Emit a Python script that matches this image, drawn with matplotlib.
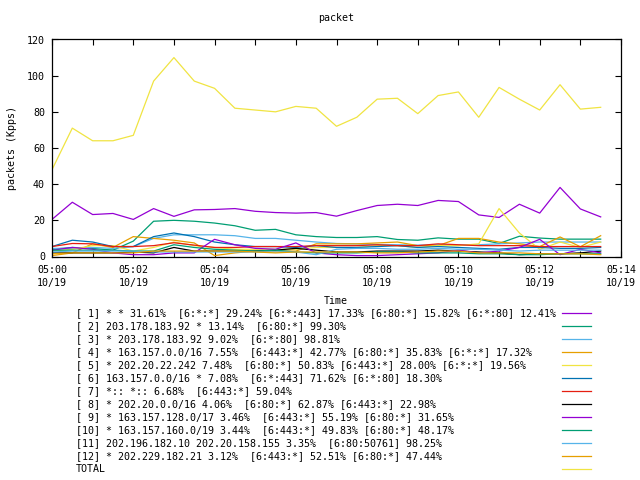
import matplotlib
import numpy as np
import pandas as pd

matplotlib.use("Agg")

import matplotlib.dates as mdates  # noqa: E402
from matplotlib import pyplot as plt  # noqa: E402
from matplotlib.lines import Line2D  # noqa: E402

plt.rcParams["font.family"] = ["DejaVu Sans Mono"]
plt.rcParams["font.size"] = 7.2

# samples every 30 s starting at 05:00 on 10/19
times = pd.date_range("2023-10-19 05:00", periods=28, freq="30s")

labels = [
    "[ 1] * * 31.61%  [6:*:*] 29.24% [6:*:443] 17.33% [6:80:*] 15.82% [6:*:80] 12.41%",
    "[ 2] 203.178.183.92 * 13.14%  [6:80:*] 99.30%",
    "[ 3] * 203.178.183.92 9.02%  [6:*:80] 98.81%",
    "[ 4] * 163.157.0.0/16 7.55%  [6:443:*] 42.77% [6:80:*] 35.83% [6:*:*] 17.32%",
    "[ 5] * 202.20.22.242 7.48%  [6:80:*] 50.83% [6:443:*] 28.00% [6:*:*] 19.56%",
    "[ 6] 163.157.0.0/16 * 7.08%  [6:*:443] 71.62% [6:*:80] 18.30%",
    "[ 7] *:: *:: 6.68%  [6:443:*] 59.04%",
    "[ 8] * 202.20.0.0/16 4.06%  [6:80:*] 62.87% [6:443:*] 22.98%",
    "[ 9] * 163.157.128.0/17 3.46%  [6:443:*] 55.19% [6:80:*] 31.65%",
    "[10] * 163.157.160.0/19 3.44%  [6:443:*] 49.83% [6:80:*] 48.17%",
    "[11] 202.196.182.10 202.20.158.155 3.35%  [6:80:50761] 98.25%",
    "[12] * 202.229.182.21 3.12%  [6:443:*] 52.51% [6:80:*] 47.44%",
    "TOTAL",
]

s1 = [20.5, 30, 23.2, 23.8, 20.5, 26.5, 22.2, 25.8, 26, 26.5, 25, 24.3, 24, 24.3,
      22.3, 25.4, 28.2, 28.9, 28.2, 31, 30.4, 23, 21.6, 28.9, 24, 38.2, 26.3, 21.9]
s2 = [4, 5, 4.5, 3.5, 8.5, 19.5, 20, 19.5, 18.5, 17, 14.5, 15, 12, 11,
      10.5, 10.5, 11, 9.4, 9, 10.3, 9.6, 9.6, 7.2, 11.2, 10.2, 9.6, 9.6, 9.6]
s3 = [4.5, 4.5, 5, 4.5, 5.5, 10, 12, 12, 12, 11.5, 10, 10, 9, 8,
      7.2, 7, 6.6, 6.5, 6.3, 6.5, 6.3, 6.5, 7, 7.5, 8, 8, 8, 8]
s4 = [0.5, 2, 7, 5, 11, 10, 9, 7.5, 0.5, 2, 3, 3, 3, 7,
      7, 7, 7.5, 8, 6, 6, 10, 10, 8, 7, 5.5, 10.8, 5.4, 11.5]
s5 = [3, 4, 6, 6, 3, 5, 8, 6, 5, 4, 4, 4, 4, 5,
      5, 5, 6, 6, 5, 6, 6, 7, 26.5, 13, 4, 8, 5, 8]
s6 = [5.5, 9, 8, 5.5, 5.5, 11, 13, 11, 8, 6.5, 5.5, 5.5, 5, 6,
      5, 5, 5.5, 6, 5, 5.5, 5, 4.5, 4, 5, 5, 4.5, 4.5, 5]
s7 = [5.5, 7.2, 7, 5.5, 5.5, 6, 7.6, 6.3, 5, 5, 5.5, 5.5, 5.5, 6,
      6, 6, 6.5, 6, 6, 7, 6.5, 6, 6, 6, 5.5, 5.5, 5.5, 5.5]
s8 = [2, 2, 2, 2, 2.5, 2, 5, 3, 3, 3, 3, 3.5, 4.5, 3.5,
      2.5, 2.5, 3, 3, 3, 3.5, 3, 2.5, 2, 1, 1.5, 1.5, 2, 3]
s9 = [3.5, 5, 4, 2, 1, 1, 2, 2, 9.5, 6.5, 4.5, 4, 7.5, 2,
      1, 0.5, 0.5, 1, 1.5, 2, 3.5, 2, 3, 5, 9.5, 1, 4, 2]
s10 = [3.5, 3.5, 3.5, 3.5, 3, 3, 6.5, 5, 4, 3.5, 3, 3.5, 2.5, 2,
       2, 2, 2.5, 2.5, 2, 2, 2, 1.5, 1.5, 1, 1, 1.5, 1.5, 1.5]
s11 = [2.5, 3, 3, 3, 3, 2.5, 2.5, 2.5, 2.5, 2.5, 2.5, 2.5, 2.5, 1,
       4, 4.5, 4.5, 4, 4, 4.5, 4, 4, 3.5, 3, 3.5, 3.5, 3.5, 3.5]
s12 = [1.5, 2, 2, 2, 2, 3, 3, 3, 3, 3, 2.5, 2, 2.5, 2.5,
       2.5, 2.5, 2, 2, 2.5, 3, 3, 2, 2, 2, 1.5, 1.5, 1.5, 1]
total = [48, 71, 64, 64, 67, 97, 110, 97, 93, 82, 81, 80, 83, 82,
         72, 77, 87, 87.5, 79, 89, 91, 77, 93.5, 87, 81, 95, 81.5, 82.5]

series = [s1, s2, s3, s4, s5, s6, s7, s8, s9, s10, s11, s12, total]

palette = ["#9400D3", "#009E73", "#56B4E9", "#E69F00",
           "#F0E442", "#0072B2", "#E51E10", "#000000"]
colors = [palette[i % 8] for i in range(len(series))]

fig = plt.figure(figsize=(6.4, 4.8), dpi=100)
ax = fig.add_axes([52 / 640, 1 - 256.5 / 480, 569 / 640, 217 / 480])

for vals, c in zip(series, colors):
    ax.plot(times, vals, color=c, lw=0.9)

ax.set_xlim(pd.Timestamp("2023-10-19 05:00"), pd.Timestamp("2023-10-19 05:14"))
ax.set_ylim(0, 120)
ax.set_yticks(np.arange(0, 121, 20))
ax.xaxis.set_major_locator(mdates.MinuteLocator(byminute=range(0, 60, 2)))
ax.xaxis.set_minor_locator(mdates.MinuteLocator())
ax.xaxis.set_major_formatter(mdates.DateFormatter("%H:%M\n%m/%d"))
ax.tick_params(which="both", direction="in", top=True, right=True,
               length=4, width=0.8, pad=5)
ax.tick_params(axis="x", pad=6)
for lab in ax.get_xticklabels():
    lab.set_linespacing(1.45)
for sp in ax.spines.values():
    sp.set_linewidth(0.9)

ax.set_ylabel("packets (Kpps)", labelpad=7)
fig.text(336 / 640, 1 - 18 / 480, "packet", ha="center", va="center")
fig.text(336 / 640, 1 - 301 / 480, "Time", ha="center", va="center")

# key below the plot: text, then a line sample
for i, (lab, c) in enumerate(zip(labels, colors)):
    y = 1 - (313 + 13 * i) / 480
    fig.text(76 / 640, y, lab, ha="left", va="center")
    fig.add_artist(Line2D([562 / 640, 591 / 640], [y, y], color=c, lw=0.9,
                          transform=fig.transFigure))

plt.savefig("out.png", dpi=100)
plt.close("all")
